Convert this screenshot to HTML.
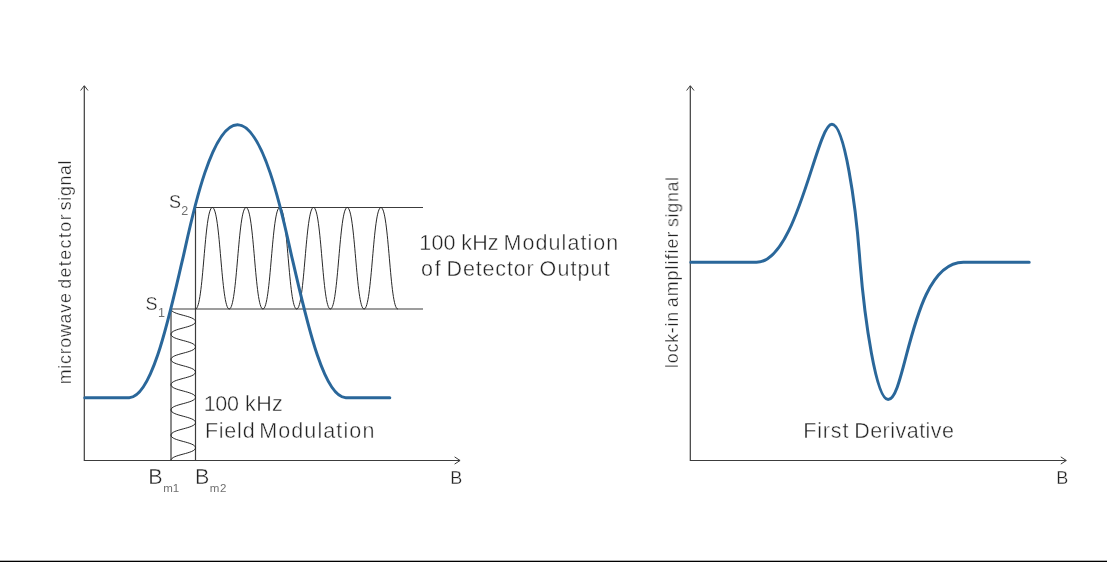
<!DOCTYPE html>
<html><head><meta charset="utf-8"><title>EPR modulation</title>
<style>
html,body{margin:0;padding:0;background:#fff;}
body{width:1107px;height:562px;overflow:hidden;position:relative;font-family:"Liberation Sans",sans-serif;}
svg{position:absolute;left:0;top:0;display:block}
text{font-family:"Liberation Sans",sans-serif;fill:#222;stroke:#fff;stroke-width:0.42;paint-order:fill stroke;}
.ax{stroke:#3c3c3c;stroke-width:1.2;fill:none;}
.ah{stroke:#3c3c3c;stroke-width:1;fill:none;}
.thin{stroke:#1c1c1c;stroke-width:0.95;fill:none;}
.blue{stroke:#2a679a;stroke-width:3;fill:none;stroke-linejoin:round;stroke-linecap:round;}
.sub{fill:#6e6e6e;stroke:none;}
.sm{stroke-width:0.3;}
</style></head><body>
<svg width="1107" height="562" viewBox="0 0 1107 562">
<rect x="0" y="0" width="1107" height="562" fill="#fff"/>
<!-- bottom rule -->
<rect x="0" y="560.7" width="1107" height="1.3" fill="#000"/>

<!-- LEFT CHART axes -->
<path class="ax" d="M84.3 86 V460.5 H460"/>
<path class="ah" d="M80.6 90.5 L84.3 85.7 L88 90.5"/>
<path class="ah" d="M454.6 456.9 L460.1 460.5 L454.6 464.1"/>
<!-- construction lines -->
<path class="ax" d="M195.5 207.5 H423"/>
<path class="ax" d="M171.0 309.0 H423"/>
<path class="ax" d="M195.5 207.5 V460.5"/>
<path class="ax" d="M171.0 309.0 V460.5"/>
<!-- waves -->
<path class="thin" d="M195.5 309 C203.59 309 204.27 207.5 212.36 207.5 C220.45 207.5 221.12 309 229.22 309 C237.31 309 237.98 207.5 246.08 207.5 C254.17 207.5 254.84 309 262.93 309 C271.03 309 271.7 207.5 279.79 207.5 C287.88 207.5 288.56 309 296.65 309 C304.74 309 305.42 207.5 313.51 207.5 C321.6 207.5 322.27 309 330.37 309 C338.46 309 339.13 207.5 347.23 207.5 C355.32 207.5 355.99 309 364.08 309 C372.18 309 372.85 207.5 380.94 207.5 C389.03 207.5 389.71 309 397.8 309"/>
<path class="thin" d="M171 309 C171 315.06 195.5 315.56 195.5 321.62 C195.5 327.67 171 328.18 171 334.23 C171 340.29 195.5 340.79 195.5 346.85 C195.5 352.91 171 353.41 171 359.47 C171 365.52 195.5 366.03 195.5 372.08 C195.5 378.14 171 378.64 171 384.7 C171 390.76 195.5 391.26 195.5 397.32 C195.5 403.37 171 403.88 171 409.93 C171 415.99 195.5 416.49 195.5 422.55 C195.5 428.61 171 429.11 171 435.17 C171 441.22 195.5 441.73 195.5 447.78 C195.5 453.84 171 454.34 171 460.4"/>
<!-- blue curve -->
<path class="blue" d="M84.8 397.65 L129.2 397.65 C152.66 397.65 170.74 309.36 182.84 258.47 C188.57 234.37 209.15 124.7 237.5 124.7 C265.85 124.7 286.43 234.37 292.16 258.47 C304.26 309.36 322.34 397.65 345.8 397.65 L389.8 397.65"/>

<!-- RIGHT CHART axes -->
<path class="ax" d="M690.3 86 V460.5 H1066.2"/>
<path class="ah" d="M686.6 90.5 L690.3 85.7 L694 90.5"/>
<path class="ah" d="M1060.8 456.9 L1066.3 460.5 L1060.8 464.1"/>
<path class="blue" d="M690.8 262.3 L756.5 262.3 C797.28 262.3 816.63 124.3 831.9 124.3 C844.21 124.3 855.82 203.16 860 262.2 C864.76 321.15 876.25 399.6 888.1 399.6 C906.3 399.6 911.03 262.3 963.4 262.3 L1029.2 262.3"/>

<!-- labels -->
<g opacity="0.995">
<text x="419.36" y="249.9" font-size="21.5" letter-spacing="0.153">100</text>
<text x="461.25" y="249.9" font-size="21.5" letter-spacing="0.146">kHz</text>
<text x="503.44" y="249.9" font-size="21.5" letter-spacing="1.076">Modulation</text>
<text x="421.1" y="276.2" font-size="21.5" letter-spacing="1.741">of</text>
<text x="446.54" y="276.2" font-size="21.5" letter-spacing="0.852">Detector</text>
<text x="539.58" y="276.2" font-size="21.5" letter-spacing="1.107">Output</text>
<text x="203.86" y="411.3" font-size="21.5" letter-spacing="-0.447">100</text>
<text x="245.05" y="411.3" font-size="21.5" letter-spacing="0.346">kHz</text>
<text x="204.94" y="437.8" font-size="21.5" letter-spacing="0.762">Field</text>
<text x="259.14" y="437.8" font-size="21.5" letter-spacing="1.120">Modulation</text>
<text x="803.34" y="437.6" font-size="21.5" letter-spacing="0.807">First</text>
<text x="854.14" y="437.6" font-size="21.5" letter-spacing="0.482">Derivative</text>
<text id="t_bl" class="sm" x="450.3" y="484" font-size="18">B</text>
<text id="t_br" class="sm" x="1056.2" y="484" font-size="18">B</text>
<text id="t_s2" class="sm" x="168.9" y="207.9" font-size="18">S<tspan class="sub" font-size="12.5" dy="7.2" dx="0.3">2</tspan></text>
<text id="t_s1" class="sm" x="145.6" y="310.3" font-size="18">S<tspan class="sub" font-size="12.5" dy="6.6" dx="0.3">1</tspan></text>
<text id="t_b1" x="148.3" y="484.4" font-size="21.5">B<tspan class="sub" font-size="11.5" dy="7.2" dx="0.6">m1</tspan></text>
<text id="t_b2" x="194.9" y="484.4" font-size="21.5">B<tspan class="sub" font-size="11.5" dy="7.2" dx="0.6" letter-spacing="0.6">m2</tspan></text>
<text transform="translate(71.2 384.28) rotate(-90)" class="sm" font-size="17.8" letter-spacing="0.764">microwave</text>
<text transform="translate(71.2 288.85) rotate(-90)" class="sm" font-size="17.8" letter-spacing="1.461">detector</text>
<text transform="translate(71.2 210.2) rotate(-90)" class="sm" font-size="17.8" letter-spacing="0.636">signal</text>
<text transform="translate(678.3 367.9) rotate(-90)" class="sm" font-size="17.8" letter-spacing="0.787">lock-in</text>
<text transform="translate(678.3 307.26) rotate(-90)" class="sm" font-size="17.8" letter-spacing="1.049">amplifier</text>
<text transform="translate(678.3 227) rotate(-90)" class="sm" font-size="17.8" letter-spacing="0.716">signal</text>
</g>
</svg>
</body></html>
